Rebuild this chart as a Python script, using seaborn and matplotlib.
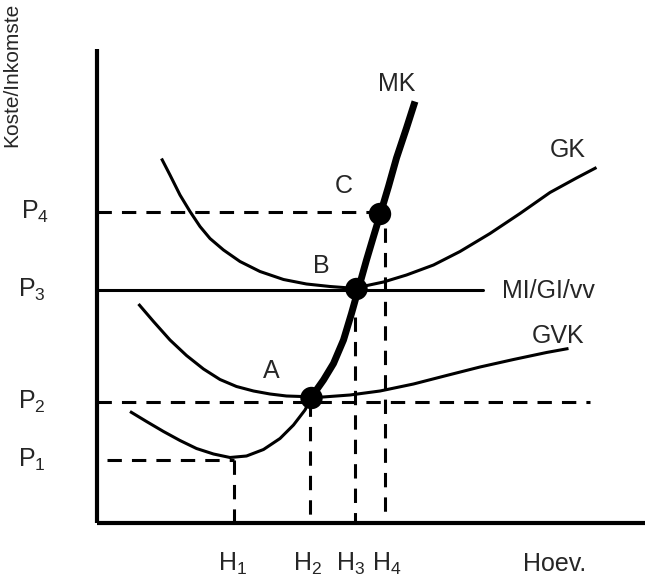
"""Kostekurwes van 'n firma: MK, GK, GVK en MI/GI/vv."""

import matplotlib
matplotlib.use("Agg")
import matplotlib.pyplot as plt
import seaborn as sns

# Posisies op die asse (hoeveelheid en koste, arbitrêre eenhede)
h_vals = [2.74, 4.26, 5.16, 5.76]
h_text_x = [2.72, 4.22, 5.08, 5.80]
h_labels = ["H$_1$", "H$_2$", "H$_3$", "H$_4$"]
p_vals = [1.26, 2.42, 4.66, 6.22]
p_text_x = [-1.58, -1.58, -1.58, -1.52]
p_labels = ["P$_1$", "P$_2$", "P$_3$", "P$_4$"]

# Gemiddelde koste (GK)
gk_q = [1.29, 1.46, 1.66, 1.86, 2.06, 2.26, 2.53, 2.86, 3.26, 3.73, 4.19, 4.66, 5.06,
        5.26, 5.73, 6.19, 6.73, 7.26, 7.86, 8.46, 9.06, 9.59, 9.99]
gk_c = [7.29, 6.96, 6.56, 6.23, 5.93, 5.69, 5.46, 5.23, 5.03, 4.87, 4.78, 4.73, 4.70,
        4.72, 4.82, 4.96, 5.16, 5.43, 5.79, 6.19, 6.61, 6.90, 7.11]

# Gemiddelde veranderlike koste (GVK)
gvk_q = [0.83, 1.13, 1.46, 1.79, 2.13, 2.46, 2.79, 3.13, 3.46, 3.79, 4.09, 4.52,
         5.06, 5.66, 6.33, 6.99, 7.66, 8.33, 8.99, 9.43]
gvk_c = [4.38, 4.03, 3.66, 3.35, 3.08, 2.87, 2.73, 2.64, 2.58, 2.54, 2.53, 2.52,
         2.56, 2.64, 2.78, 2.95, 3.12, 3.27, 3.41, 3.49]

# Marginale koste (MK): dun onderste deel, dik boonste deel
mk_low_q = [0.66, 0.99, 1.33, 1.66, 1.99, 2.33, 2.66, 2.99, 3.33, 3.66, 3.93, 4.16, 4.29]
mk_low_c = [2.23, 2.03, 1.83, 1.65, 1.49, 1.38, 1.31, 1.34, 1.47, 1.69, 1.96, 2.26, 2.52]
mk_up_q = [4.29, 4.53, 4.73, 4.93, 5.09, 5.23, 5.39, 5.53, 5.66, 5.83, 5.99, 6.19, 6.36]
mk_up_c = [2.52, 2.86, 3.19, 3.66, 4.19, 4.69, 5.26, 5.73, 6.16, 6.73, 7.30, 7.90, 8.43]

# Punte A, B, C
pt_names = ["A", "B", "C"]
pt_q = [4.29, 5.19, 5.66]
pt_c = [2.50, 4.68, 6.18]
pt_text_x = [3.49, 4.48, 4.93]
pt_text_y = [2.90, 5.00, 6.60]

# MI/GI/vv-lyn en stippellyne se eindpunte
mi_end = 7.72
p1_start = 0.2
p2_end = 9.86
p4_end = 5.62
h3_top = 4.12
h4_top = 5.90

x_axis_end = 10.96
y_axis_end = 9.48

sns.set_theme(style="white")
plt.rcParams["font.family"] = ["Liberation Sans", "DejaVu Sans"]
plt.rcParams["mathtext.fontset"] = "custom"
plt.rcParams["mathtext.rm"] = "Liberation Sans"
plt.rcParams["mathtext.it"] = "Liberation Sans:italic"

fig = plt.figure(figsize=(6.47, 5.77), dpi=100)
ax = fig.add_axes([0, 0, 1, 1])
ax.set_xlim(-1.94, 11.0)
ax.set_ylim(-1.08, 10.46)
ax.axis("off")

dash = (0, (4.7, 3.3))
thin = 2.2
k = "black"

# asse
ax.plot([0, 0], [0, y_axis_end], color=k, linewidth=3.0, solid_capstyle="butt")
ax.plot([0, x_axis_end], [0, 0], color=k, linewidth=3.0, solid_capstyle="butt")

# stippellyne
ax.plot([p1_start, h_vals[0]], [p_vals[0], p_vals[0]], color=k, linewidth=thin, linestyle=dash)
ax.plot([h_vals[0], h_vals[0]], [p_vals[0], 0], color=k, linewidth=thin, linestyle=dash)
ax.plot([0, p2_end], [p_vals[1], p_vals[1]], color=k, linewidth=thin, linestyle=dash)
ax.plot([h_vals[1], h_vals[1]], [p_vals[1], 0], color=k, linewidth=thin, linestyle=dash)
ax.plot([h_vals[2], h_vals[2]], [h3_top, 0], color=k, linewidth=thin, linestyle=dash)
ax.plot([0, p4_end], [p_vals[3], p_vals[3]], color=k, linewidth=thin, linestyle=dash)
ax.plot([h_vals[3], h_vals[3]], [h4_top, 0], color=k, linewidth=thin, linestyle=dash)

# MI/GI/vv
ax.plot([0, mi_end], [p_vals[2], p_vals[2]], color=k, linewidth=thin)

# kurwes
curve_kw = dict(sort=False, color=k, ax=ax, solid_joinstyle="round", solid_capstyle="butt")
sns.lineplot(x=gk_q, y=gk_c, linewidth=thin, **curve_kw)
sns.lineplot(x=gvk_q, y=gvk_c, linewidth=thin, **curve_kw)
sns.lineplot(x=mk_low_q, y=mk_low_c, linewidth=thin, **curve_kw)
sns.lineplot(x=mk_up_q, y=mk_up_c, linewidth=5.0, **curve_kw)

sns.scatterplot(x=pt_q, y=pt_c, color=k, s=260, edgecolor="none", zorder=5, ax=ax)

fs = 18
for name, xx, yy in zip(pt_names, pt_text_x, pt_text_y):
    ax.text(xx, yy, name, fontsize=fs, ha="center", va="baseline")
ax.text(6.0, 8.64, "MK", fontsize=fs, ha="center", va="baseline")
ax.text(9.42, 7.32, "GK", fontsize=fs, ha="center", va="baseline")
ax.text(9.23, 3.60, "GVK", fontsize=fs, ha="center", va="baseline")
ax.text(8.10, 4.50, "MI/GI/vv", fontsize=fs, ha="left", va="baseline")
ax.text(9.16, -0.96, "Hoev.", fontsize=fs, ha="center", va="baseline")

for hx, hl in zip(h_text_x, h_labels):
    ax.text(hx, -0.96, hl, fontsize=fs, ha="center", va="baseline")
for px, pv, pl in zip(p_text_x, p_vals, p_labels):
    ax.text(px, pv, pl, fontsize=fs, ha="left", va="center")

ax.text(-1.7, 8.96, "Koste/Inkomste", fontsize=15, rotation=90, ha="center", va="center")

fig.savefig("out.png", dpi=100)
